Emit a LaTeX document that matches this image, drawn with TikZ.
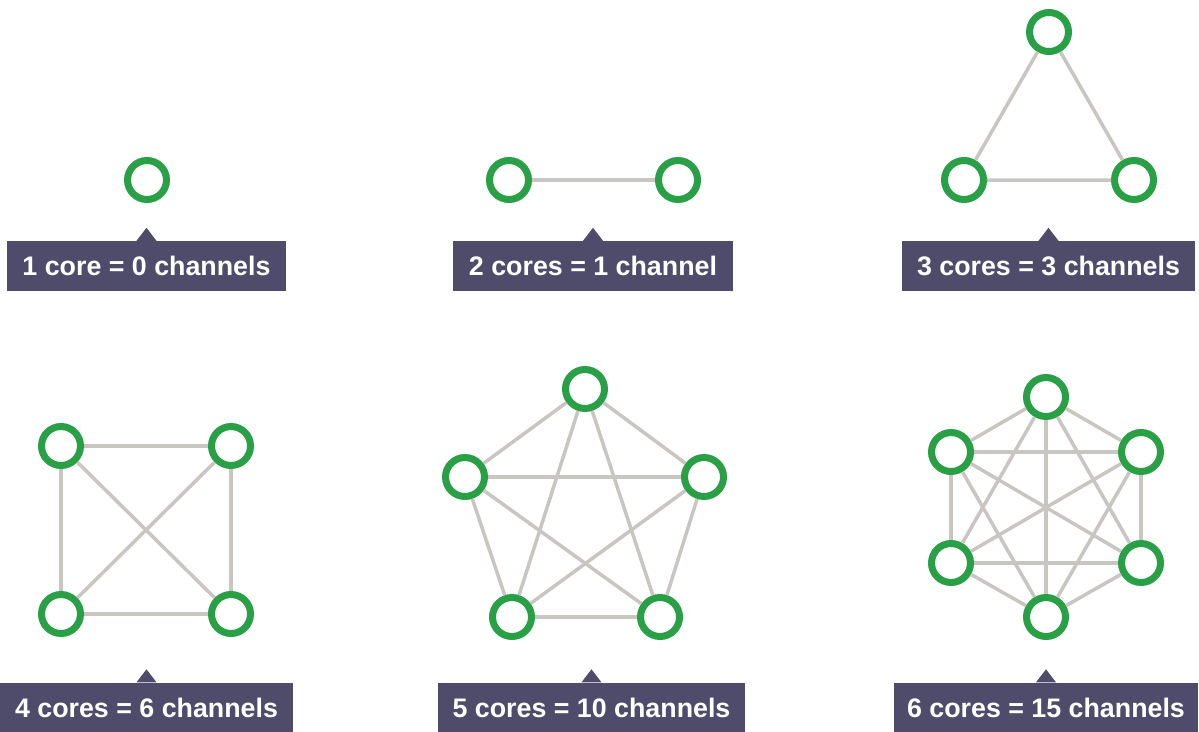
\documentclass[tikz,border=0pt]{standalone}
\usepackage{fontspec}
\setmainfont{Liberation Sans}
\definecolor{coregreen}{HTML}{29A046}
\definecolor{linkgray}{HTML}{C9C5C1}
\definecolor{boxslate}{HTML}{4E4C6A}
\tikzset{
  core/.style={circle, draw=coregreen, line width=7pt, fill=white, minimum size=39pt, inner sep=0pt, outer sep=3.5pt},
  link/.style={draw=linkgray, line width=3.5pt},
  caption/.style={fill=boxslate, text=white, inner sep=0pt, minimum height=50pt,
    font=\fontsize{26.8}{30}\selectfont\bfseries},
  pointer/.style={fill=boxslate}
}
\newcommand{\capptr}[1]{\fill[pointer] ([xshift=-10pt]#1.north) -- ([yshift=13pt]#1.north) -- ([xshift=10pt]#1.north) -- cycle;}
\begin{document}
\begin{tikzpicture}[x=1pt,y=-1pt]
\useasboundingbox (0,0) rectangle (1199,731);
% ---------- 1 core
\node[core] (a1) at (147,180) {};
\node[caption, minimum width=279pt] (c1) at (146.5,266) {1 core = 0 channels};
\capptr{c1}
% ---------- 2 cores
\node[core] (b1) at (509,180) {};
\node[core] (b2) at (678,180) {};
\draw[link] (b1) -- (b2);
\node[caption, minimum width=280pt] (c2) at (593,266) {2 cores = 1 channel};
\capptr{c2}
% ---------- 3 cores
\node[core] (t1) at (1049,32) {};
\node[core] (t2) at (964,180) {};
\node[core] (t3) at (1134,180) {};
\draw[link] (t1) -- (t2) (t2) -- (t3) (t3) -- (t1);
\node[caption, minimum width=293pt] (c3) at (1048.5,266) {3 cores = 3 channels};
\capptr{c3}
% ---------- 4 cores
\node[core] (q1) at (61,446) {};
\node[core] (q2) at (231,446) {};
\node[core] (q3) at (231,614) {};
\node[core] (q4) at (61,614) {};
\foreach \u/\v in {q1/q2,q2/q3,q3/q4,q4/q1,q1/q3,q2/q4}
  \draw[link] (\u) -- (\v);
\node[caption, minimum width=293pt] (c4) at (146.5,707.5) {4 cores = 6 channels};
\capptr{c4}
% ---------- 5 cores
\node[core] (p1) at (585,389) {};
\node[core] (p2) at (704,477) {};
\node[core] (p3) at (660,617) {};
\node[core] (p4) at (512,617) {};
\node[core] (p5) at (465,477) {};
\foreach \u/\v in {p1/p2,p2/p3,p3/p4,p4/p5,p5/p1,p1/p3,p1/p4,p2/p4,p2/p5,p3/p5}
  \draw[link] (\u) -- (\v);
\node[caption, minimum width=307pt] (c5) at (591.5,707.5) {5 cores = 10 channels};
\capptr{c5}
% ---------- 6 cores
\node[core] (h1) at (1046,397) {};
\node[core] (h2) at (1141,452) {};
\node[core] (h3) at (1141,563) {};
\node[core] (h4) at (1046,617) {};
\node[core] (h5) at (951,563) {};
\node[core] (h6) at (951,452) {};
\foreach \u/\v in {h1/h2,h1/h3,h1/h4,h1/h5,h1/h6,h2/h3,h2/h4,h2/h5,h2/h6,h3/h4,h3/h5,h3/h6,h4/h5,h4/h6,h5/h6}
  \draw[link] (\u) -- (\v);
\node[caption, minimum width=304pt] (c6) at (1046,707.5) {6 cores = 15 channels};
\capptr{c6}
\end{tikzpicture}
\end{document}
